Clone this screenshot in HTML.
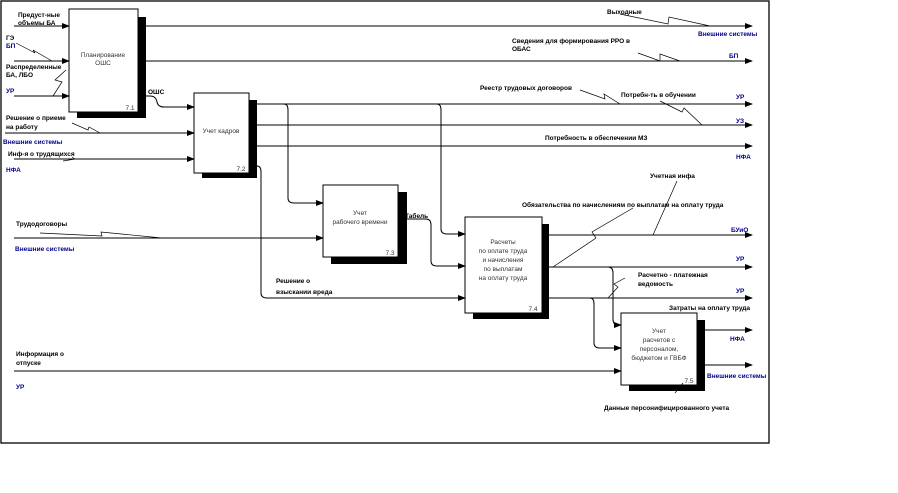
<!DOCTYPE html>
<html><head><meta charset="utf-8"><style>
html,body{margin:0;padding:0;background:#fff;}
svg{display:block;}
text{font-family:"Liberation Sans",sans-serif;font-size:6.5px;}
.b{font-weight:bold;fill:#000;}
.u{font-weight:bold;fill:#00008b;}
.n{fill:#333;font-size:7px;}
</style></head><body>
<svg width="898" height="493" viewBox="0 0 898 493" xmlns="http://www.w3.org/2000/svg">
<defs><marker id="a" markerWidth="8" markerHeight="6" refX="7" refY="3" orient="auto" markerUnits="userSpaceOnUse"><path d="M0,0 L8,3 L0,6 z" fill="#000"/></marker></defs>
<rect x="1" y="1" width="768" height="442" fill="none" stroke="#000" stroke-width="1.3"/>
<g fill="#000">
<rect x="77" y="17" width="69" height="101"/>
<rect x="202" y="100" width="55" height="78"/>
<rect x="331" y="192" width="76" height="72"/>
<rect x="473" y="224" width="76" height="95"/>
<rect x="629" y="320" width="76" height="71"/>
</g>
<g fill="#fff" stroke="#000" stroke-width="1">
<rect x="69" y="9" width="69" height="103"/>
<rect x="194" y="93" width="55" height="80"/>
<rect x="323" y="185" width="75" height="72"/>
<rect x="465" y="217" width="77" height="96"/>
<rect x="621" y="313" width="76" height="72"/>
</g>
<g fill="none" stroke="#000" stroke-width="1">
<path d="M14,26H69" marker-end="url(#a)"/><path d="M14,61H69" marker-end="url(#a)"/><path d="M14,96H69" marker-end="url(#a)"/>
<path d="M138,26H752" marker-end="url(#a)"/><path d="M138,61H752" marker-end="url(#a)"/>
<path d="M138,96H150Q156,96 157,102Q158,107 164,107H194" marker-end="url(#a)"/>
<path d="M5,133H194" marker-end="url(#a)"/><path d="M14,159H194" marker-end="url(#a)"/>
<path d="M249,104H752" marker-end="url(#a)"/><path d="M249,125H752" marker-end="url(#a)"/><path d="M249,146H752" marker-end="url(#a)"/>
<path d="M284,104Q288,104 288,110V198Q288,203 294,203H323" marker-end="url(#a)"/>
<path d="M437,104Q441,104 441,110V229Q441,234 447,234H465" marker-end="url(#a)"/>
<path d="M257,166Q261,166 261,172V293Q261,298 267,298H465" marker-end="url(#a)"/>
<path d="M14,238H323" marker-end="url(#a)"/>
<path d="M398,219H426Q431,219 431,225V261Q431,266 437,266H465" marker-end="url(#a)"/>
<path d="M542,235H752" marker-end="url(#a)"/><path d="M542,267H752" marker-end="url(#a)"/><path d="M542,298H752" marker-end="url(#a)"/>
<path d="M608,267Q613,267 613,273V319Q613,325 618,325H621" marker-end="url(#a)"/>
<path d="M590,298Q594,298 594,304V343Q594,348 600,348H621" marker-end="url(#a)"/>
<path d="M14,371H621" marker-end="url(#a)"/>
<path d="M697,330H752" marker-end="url(#a)"/><path d="M697,365H752" marker-end="url(#a)"/>
<g stroke-width="0.7">
<path d="M16,43L35,53L33,50L52,61"/><path d="M66,70L55,80L62,82L53,96"/>
<path d="M72,123L88,130L89,127L100,133"/><path d="M72,157L75,159L63,161"/>
<path d="M620,14L668,24L669,17L710,26"/><path d="M638,53L660,61L660,54L680,61"/>
<path d="M580,90L605,99L604,94L620,104"/><path d="M660,101L682,112L684,108L702,125"/>
<path d="M40,233L102,236L101,232L162,238"/>
<path d="M677,181L653,235"/>
<path d="M633,208L592,232L596,238L553,267"/>
<path d="M625,278L614,284L618,287L608,298"/>
<path d="M683,383L675,393"/>
</g>
</g>
<g class="b">
<text x="18" y="17">Предуст-ные</text><text x="18" y="25">объемы БА</text>
<text x="6" y="40">ГЭ</text>
<text x="6" y="69">Распределенные</text><text x="6" y="77">БА, ЛБО</text>
<text x="148" y="94">ОШС</text>
<text x="6" y="120">Решение о приеме</text><text x="6" y="129">на работу</text>
<text x="8" y="156">Инф-я о трудящихся</text>
<text x="607" y="14">Выходные</text>
<text x="512" y="43">Сведения для формирования РРО в</text><text x="512" y="51">ОБАС</text>
<text x="480" y="90">Реестр трудовых договоров</text>
<text x="621" y="97">Потребн-ть в обучении</text>
<text x="545" y="140">Потребность в обеспечении МЗ</text>
<text x="650" y="178">Учетная инфа</text>
<text x="522" y="207">Обязательства по начислениям по выплатам на оплату труда</text>
<text x="405" y="218">Табель</text>
<text x="16" y="226">Трудодоговоры</text>
<text x="276" y="283">Решение о</text><text x="276" y="294">взыскании вреда</text>
<text x="638" y="277">Расчетно - платежная</text><text x="638" y="286">ведомость</text>
<text x="669" y="310">Затраты на оплату труда</text>
<text x="16" y="356">Информация о</text><text x="16" y="365">отпуске</text>
<text x="604" y="410">Данные персонифицированного учета</text>
</g>
<g class="u">
<text x="6" y="48">БП</text><text x="6" y="93">УР</text>
<text x="3" y="144">Внешние системы</text><text x="6" y="172">НФА</text>
<text x="698" y="36">Внешние системы</text><text x="729" y="58">БП</text>
<text x="736" y="99">УР</text><text x="736" y="123">УЗ</text><text x="736" y="159">НФА</text>
<text x="731" y="232">БУиО</text><text x="736" y="261">УР</text><text x="736" y="293">УР</text>
<text x="15" y="251">Внешние системы</text>
<text x="730" y="341">НФА</text><text x="707" y="378">Внешние системы</text>
<text x="16" y="389">УР</text>
</g>
<g class="n" text-anchor="middle" fill="#333">
<text x="103" y="57">Планирование</text><text x="103" y="65">ОШС</text>
<text x="221" y="133">Учет кадров</text>
<text x="360" y="215">Учет</text><text x="360" y="224">рабочего времени</text>
<text x="503" y="244">Расчеты</text><text x="503" y="253">по оплате труда</text><text x="503" y="262">и начисления</text><text x="503" y="271">по выплатам</text><text x="503" y="280">на оплату труда</text>
<text x="659" y="333">Учет</text><text x="659" y="342">расчетов с</text><text x="659" y="351">персоналом,</text><text x="659" y="360">бюджетом и ГВБФ</text>
<text x="130" y="110">7.1</text><text x="241" y="171">7.2</text><text x="390" y="255">7.3</text><text x="533" y="311">7.4</text><text x="689" y="383">7.5</text>
</g>
</svg>
</body></html>
